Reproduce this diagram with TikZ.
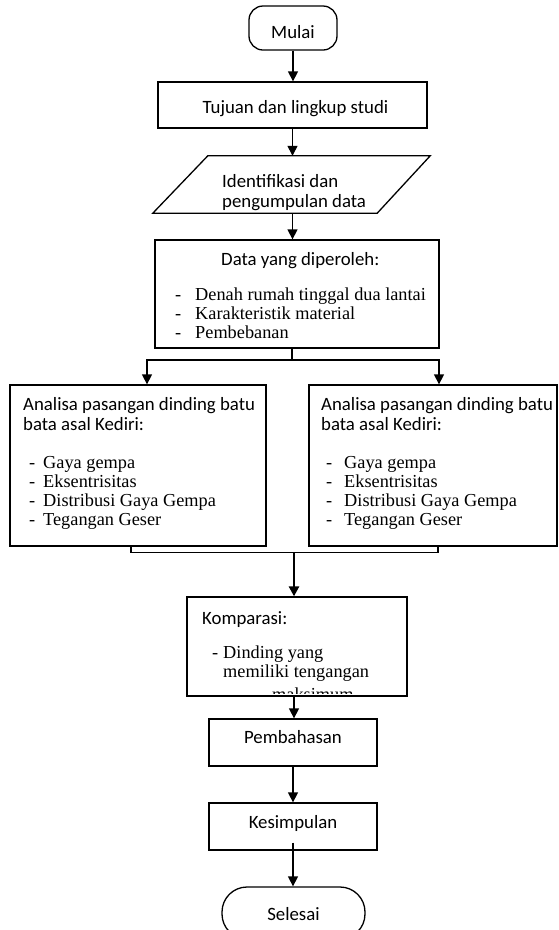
\documentclass[tikz,border=0pt]{standalone}
\usepackage{fontspec}
\setmainfont{Liberation Serif}
\newfontfamily\calibri{Carlito}
\usetikzlibrary{arrows.meta}
\begin{document}
\begin{tikzpicture}[x=1pt,y=-1pt,
  box/.style={draw,line width=1.3pt,rectangle,inner sep=0pt},
  term/.style={box,rounded corners=14pt},
  tx/.style={text height=13pt,text depth=4pt},
  sanstxt/.style={font=\calibri\fontsize{18.8}{22}\selectfont,inner sep=0pt},
  seriftxt/.style={font=\fontsize{18.3}{19.5}\selectfont,inner sep=0pt},
  arr/.style={line width=1.3pt,-{Triangle[width=10pt,length=10pt]}},
  conn/.style={line width=1.3pt}]
\useasboundingbox (0,0) rectangle (559,930);
\clip (0,0) rectangle (559,930);

% Start
\node[term,minimum width=88pt,minimum height=44pt,sanstxt,tx] (mulai) at (293,28) {\raisebox{-5.5pt}{Mulai}};
% Tujuan
\node[box,minimum width=269pt,minimum height=46pt,sanstxt,tx] (tujuan) at (292.5,105) {\raisebox{-3.5pt}{\hspace*{6pt}Tujuan dan lingkup studi}};
% Identifikasi (parallelogram)
\node[inner sep=0pt,minimum width=277pt,minimum height=57pt] (ident) at (291.5,184.5) {};
\draw[conn] ([xshift=55pt]ident.north west) -- (ident.north east) -- ([xshift=-53pt]ident.south east) -- (ident.south west) -- cycle;
\node[sanstxt,anchor=base west] (id1) at (222,187) {Identifikasi dan};
\node[sanstxt,anchor=base west] (id2) at (222,207) {pengumpulan data};

% Data
\node[box,minimum width=284pt,minimum height=108pt] (data) at (297,294) {};
\node[sanstxt,anchor=base west] (dt) at (221,265) {Data yang diperoleh:};
\node[seriftxt,anchor=base west] (dd1) at (175,300) {-};
\node[seriftxt,anchor=base west] (dd2) at (175,319) {-};
\node[seriftxt,anchor=base west] (dd3) at (175,338) {-};
\node[seriftxt,anchor=base west] (di1) at (195,300) {Denah rumah tinggal dua lantai};
\node[seriftxt,anchor=base west] (di2) at (195,319) {Karakteristik material};
\node[seriftxt,anchor=base west] (di3) at (195,338) {Pembebanan};

% Left analysis
\node[box,minimum width=256pt,minimum height=161pt] (left) at (138,465.5) {};
\node[sanstxt,anchor=base west] (la1) at (23,410) {Analisa pasangan dinding batu};
\node[sanstxt,anchor=base west] (la2) at (23,430) {bata asal Kediri:};
\foreach \yy/\tt [count=\i] in {468/Gaya gempa,487/Eksentrisitas,506/Distribusi Gaya Gempa,525/Tegangan Geser}{
  \node[seriftxt,anchor=base west] (ld\i) at (29,\yy) {-};
  \node[seriftxt,anchor=base west] (li\i) at (43,\yy) {\tt};
}
% Right analysis
\node[box,minimum width=248pt,minimum height=161pt] (right) at (433,465.5) {};
\node[sanstxt,anchor=base west] (ra1) at (321,410) {Analisa pasangan dinding batu};
\node[sanstxt,anchor=base west] (ra2) at (321,430) {bata asal Kediri:};
\foreach \yy/\tt [count=\i] in {468/Gaya gempa,487/Eksentrisitas,506/Distribusi Gaya Gempa,525/Tegangan Geser}{
  \node[seriftxt,anchor=base west] (rd\i) at (326,\yy) {-};
  \node[seriftxt,anchor=base west] (ri\i) at (344,\yy) {\tt};
}

% Komparasi
\node[box,minimum width=220pt,minimum height=99pt] (komp) at (297,646.5) {};
\node[sanstxt,anchor=base west] (k1) at (202,624) {Komparasi:};
\node[seriftxt,anchor=base west] (kd) at (212,658) {-};
\node[seriftxt,anchor=base west] (k2) at (223,658) {Dinding yang};
\node[seriftxt,anchor=base west] (k3) at (223,677) {memiliki tengangan};
\begin{scope}
  \clip ([xshift=2pt]komp.north west) rectangle ([yshift=3.5pt]komp.south east);
  \node[seriftxt,anchor=base west] (k4) at (272,700) {maksimum};
\end{scope}

% Pembahasan, Kesimpulan, Selesai
\node[box,minimum width=168pt,minimum height=47pt,sanstxt,tx] (pemb) at (293,742.5) {\raisebox{4pt}{Pembahasan}};
\node[box,minimum width=168pt,minimum height=47pt,sanstxt,tx] (kes) at (293,826.5) {\raisebox{3pt}{Kesimpulan}};
\node[box,rounded corners=25pt,minimum width=143pt,minimum height=52pt,sanstxt,tx] (sel) at (293.5,913) {\raisebox{-2.5pt}{Selesai}};

% Connectors
\draw[arr] (mulai.south) -- (tujuan.north -| mulai.south);
\draw[arr] (tujuan.south) -- (ident.north -| tujuan.south);
\draw[arr] (ident.south -| tujuan.south) -- (data.north -| tujuan.south);
\coordinate (split) at (292,360);
\draw[conn] (data.south -| split) -- (split);
\draw[arr] (split) -| ([xshift=9pt]left.north);
\draw[arr] (split) -| ([xshift=6pt]right.north);
\coordinate (merge) at (294,552);
\draw[conn] ([xshift=-7pt]left.south) |- ([xshift=5pt,yshift=-6pt]right.south) -- ([xshift=5pt]right.south);
\draw[arr,line width=2.5pt] (merge) -- (komp.north -| merge);
\draw[arr] (komp.south -| merge) -- (pemb.north -| merge);
\draw[arr] (pemb.south) -- (kes.north);
\draw[arr] ([yshift=8pt]kes.south) -- (sel.north -| kes.south);
\end{tikzpicture}
\end{document}
